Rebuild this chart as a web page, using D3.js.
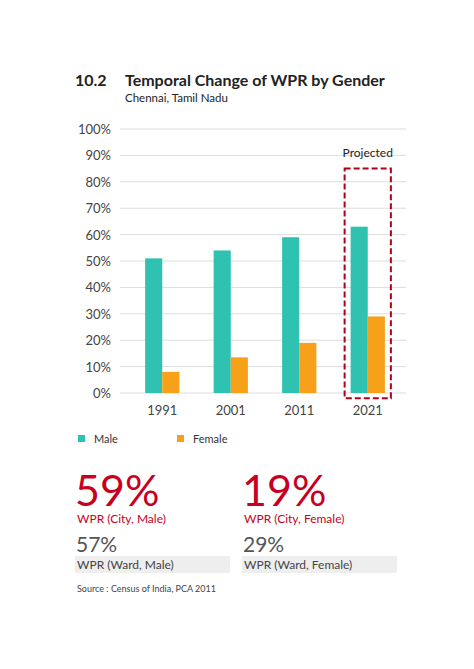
<!DOCTYPE html>
<html><head><meta charset="utf-8">
<script src="https://cdn.jsdelivr.net/npm/d3@7"></script>
<style>body{margin:0;background:#fff;font-family:Lato,"Noto Sans",sans-serif}</style>
</head><body><svg id="c" width="474" height="669"></svg>
<script>
const years=["1991","2001","2011","2021"];
const male=[51,54,59,63];
const female=[8,13.5,19,29];
const yTicks=[0,10,20,30,40,50,60,70,80,90,100];
const teal="#30c2b0", orange="#f7a11a", red="#c8001e";
const svg=d3.select("#c");
svg.append("text").attr("x",75).attr("y",86).attr("font-size",16).attr("font-weight",700).attr("fill","#222").text("10.2");
svg.append("text").attr("x",125).attr("y",86).attr("font-size",16).attr("font-weight",700).attr("fill","#222").text("Temporal Change of WPR by Gender");
svg.append("text").attr("x",125).attr("y",102).attr("font-size",11.5).attr("fill","#222").text("Chennai, Tamil Nadu");
const y=d3.scaleLinear().domain([0,100]).range([393,129]);
const x=d3.scaleBand().domain(years).range([128,402]).paddingInner(0.5).paddingOuter(0.25);
const xs=d3.scaleBand().domain(["m","f"]).range([0,x.bandwidth()]);
const g=svg.append("g");
g.selectAll("line.g").data(yTicks).join("line").attr("x1",120).attr("x2",406).attr("y1",d=>y(d)).attr("y2",d=>y(d)).attr("stroke","#ddd").attr("stroke-width",1);
g.selectAll("text.t").data(yTicks).join("text").attr("x",111).attr("y",d=>y(d)+5).attr("text-anchor","end").attr("font-size",13).attr("fill","#444").text(d=>d+"%");
years.forEach((yr,i)=>{
  g.append("rect").attr("x",x(yr)+xs("m")).attr("width",xs.bandwidth()).attr("y",y(male[i])).attr("height",y(0)-y(male[i])).attr("fill",teal);
  g.append("rect").attr("x",x(yr)+xs("f")).attr("width",xs.bandwidth()).attr("y",y(female[i])).attr("height",y(0)-y(female[i])).attr("fill",orange);
  g.append("text").attr("x",x(yr)+x.bandwidth()/2).attr("y",415).attr("text-anchor","middle").attr("font-size",13).attr("fill","#444").text(yr);
});
const b=x("2021");
g.append("rect").attr("x",b-6).attr("y",y(85)).attr("width",x.bandwidth()+12).attr("height",y(-2)-y(85)).attr("fill","none").attr("stroke","#b0001a").attr("stroke-width",2).attr("stroke-dasharray","6,3");
g.append("text").attr("x",b+x.bandwidth()/2).attr("y",y(89.5)).attr("text-anchor","middle").attr("font-size",12).attr("fill","#222").text("Projected");
[["Male",teal,78],["Female",orange,177]].forEach(([t,c,lx])=>{
  svg.append("rect").attr("x",lx).attr("y",435).attr("width",7).attr("height",7).attr("fill",c);
  svg.append("text").attr("x",lx+16).attr("y",443).attr("font-size",11).attr("fill","#333").text(t);
});
const stats=[["59%","WPR (City, Male)","57%","WPR (Ward, Male)",75],["19%","WPR (City, Female)","29%","WPR (Ward, Female)",242]];
stats.forEach(([big,l1,mid,l2,sx])=>{
  svg.append("text").attr("x",sx).attr("y",506).attr("font-size",43).attr("fill",red).text(big);
  svg.append("text").attr("x",sx+2).attr("y",523).attr("font-size",12).attr("fill",red).text(l1);
  svg.append("text").attr("x",sx+1).attr("y",552).attr("font-size",21).attr("fill","#555").text(mid);
  svg.append("rect").attr("x",sx).attr("y",556).attr("width",155).attr("height",17).attr("fill","#eee");
  svg.append("text").attr("x",sx+2).attr("y",569).attr("font-size",12).attr("fill","#444").text(l2);
});
svg.append("text").attr("x",77).attr("y",592).attr("font-size",9).attr("fill","#444").text("Source : Census of India, PCA 2011");
</script></body></html>
